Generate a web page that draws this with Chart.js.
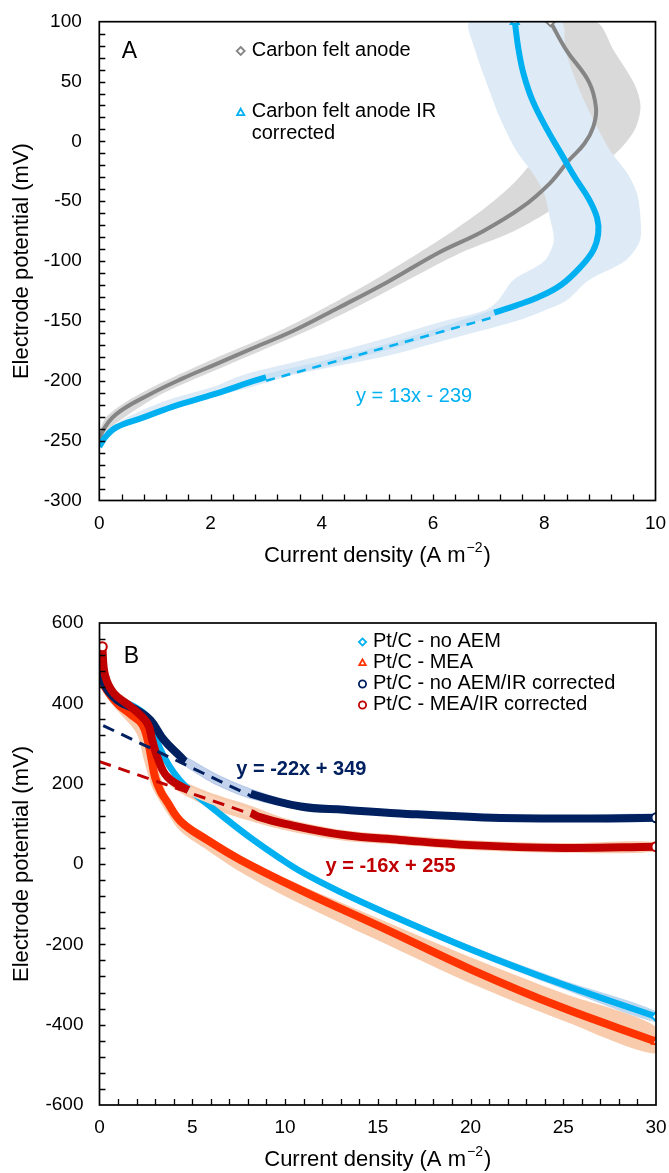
<!DOCTYPE html>
<html><head><meta charset="utf-8">
<script src="https://cdn.jsdelivr.net/npm/chart.js@4.4.1/dist/chart.umd.min.js"></script>
<style>
html,body{margin:0;padding:0;background:#fff;}
#wrap{position:relative;width:669px;height:1173px;background:#fff;}
canvas{position:absolute;left:0;}
#cA{top:0;} #cB{top:590px;}
</style></head><body>
<div id="wrap"><canvas id="cA" width="669" height="590"></canvas><canvas id="cB" width="669" height="583"></canvas></div>
<script>
// ---------------- DATA: panel A ----------------
const A_xTicks = [0, 2, 4, 6, 8, 10];
const A_yTicks = [-300, -250, -200, -150, -100, -50, 0, 50, 100];
const A_grayLabel = 'Carbon felt anode';
const A_grayX = [0, 0.05, 0.3, 0.92, 1.5, 2.1, 2.8, 3.5, 4.3, 5.2, 6.1, 6.9, 7.6, 8.1, 8.44, 8.72, 8.88, 8.93, 8.8, 8.4, 8.11];
const A_grayY = [-255, -243, -228, -211, -198, -186, -172, -158, -139, -117, -93, -75, -55, -35, -16, -2, 12, 28, 50, 76, 100];
const A_blueLabel = 'Carbon felt anode IR corrected';
const A_blueX = [0, 0.11, 0.3, 0.77, 1.3, 2.08, 3.0, 4.0, 5.0, 6.0, 7.1, 7.5, 7.9, 8.3, 8.65, 8.88, 8.97, 8.95, 8.8, 8.55, 8.3, 8.05, 7.79, 7.63, 7.54, 7.47];
const A_blueY = [-255, -247, -239, -231, -222, -211, -197, -186, -174, -160, -143, -137, -130, -120, -105, -91, -77, -64, -48, -30, -10, 10, 34, 56, 76, 100];
const A_bluePale = {from: 3.0, to: 7.1};
const A_grayBandY  = [-255, -243, -229, -211, -186, -158, -139, -117, -93, -75, -55, -35, -16, -2, 12, 30, 48, 76, 100];
const A_grayBandLo = [0, 0.0, 0.15, 0.72, 1.85, 3.25, 4.05, 4.9, 5.75, 6.35, 6.95, 7.45, 7.8, 8.0, 8.15, 8.2, 8.1, 7.7, 7.4];
const A_grayBandHi = [0.02, 0.12, 0.5, 1.12, 2.35, 3.75, 4.6, 5.5, 6.5, 7.45, 8.2, 8.75, 9.15, 9.45, 9.65, 9.73, 9.62, 9.25, 8.92];
const A_blueBandY  = [-255, -245, -235, -225, -215, -205, -195, -180, -165, -150, -141, -133, -116, -100, -83, -64, -44, -27, -8, 20, 48, 76, 100];
const A_blueBandLo = [0, 0.07, 0.33, 0.75, 1.3, 2.05, 2.6, 3.9, 5.1, 6.2, 6.94, 7.17, 7.44, 8.0, 8.17, 8.1, 8.0, 7.8, 7.5, 7.2, 6.97, 6.76, 6.67];
const A_blueBandHi = [0.02, 0.19, 0.57, 1.15, 1.9, 2.75, 3.5, 5.1, 6.3, 7.5, 8.02, 8.4, 8.8, 9.45, 9.72, 9.73, 9.67, 9.5, 9.19, 8.86, 8.59, 8.38, 8.29];
const A_fit = {slope: 13, intercept: -239, from: 3.0, to: 7.1, text: 'y = 13x - 239'};

// ---------------- DATA: panel B ----------------
const B_xTicks = [0, 5, 10, 15, 20, 25, 30];
const B_yTicks = [-600, -400, -200, 0, 200, 400, 600];
const B_noAemLabel = 'Pt/C - no AEM';
const B_noAemX = [0, 0.3, 1.0, 2.0, 2.7, 3.1, 3.5, 4.0, 4.6, 6.2, 8.0, 9.7, 10.9, 13, 15.5, 20.1, 24.8, 30];
const B_noAemY = [495, 445, 412, 388, 360, 305, 265, 228, 195, 135, 70, 15, -20, -70, -123, -214, -297, -380];
const B_noAemBandUp = [500, 452, 419, 395, 368, 315, 274, 236, 203, 143, 78, 23, -12, -62, -115, -205, -286, -366];
const B_noAemBandLo = [490, 438, 405, 381, 352, 295, 256, 220, 187, 127, 62, 7, -28, -78, -131, -223, -308, -394];
const B_meaLabel = 'Pt/C - MEA';
const B_meaX = [0, 0.3, 1, 1.7, 2.3, 2.6, 2.8, 3.0, 3.3, 3.6, 4.4, 5.8, 7.6, 10.85, 15.5, 20.1, 24.8, 30];
const B_meaY = [480, 440, 398, 372, 348, 308, 262, 215, 180, 158, 105, 60, 10, -65, -164, -264, -355, -442];
const B_meaBandX  = [0, 0.3, 1, 2, 2.4, 2.8, 3.2, 3.6, 4.4, 5.8, 7.6, 10, 15, 20, 25, 30];
const B_meaBandUp = [490, 452, 410, 378, 362, 318, 232, 178, 118, 72, 22, -35, -135, -232, -322, -405];
const B_meaBandLo = [468, 422, 380, 325, 258, 195, 160, 130, 80, 35, -20, -80, -190, -297, -390, -472];
const B_noAemIrLabel = 'Pt/C - no AEM/IR corrected';
const B_noAemIrX = [0, 0.23, 0.95, 2.03, 2.75, 3.47, 4.37, 4.64, 6.4, 8.15, 10.85, 13.2, 16.2, 20.7, 25, 30];
const B_noAemIrY = [516, 450, 408, 383, 358, 309, 267, 255, 208, 175, 143, 135, 126, 116, 113, 115];
const B_noAemIrBandUp = [520, 456, 414, 389, 364, 316, 274, 268, 222, 188, 151, 142, 133, 123, 121, 124];
const B_noAemIrBandLo = [512, 444, 402, 377, 352, 302, 260, 243, 194, 162, 135, 128, 119, 109, 105, 106];
const B_noAemIrPale = {from: 4.64, to: 8.15};
const B_meaIrLabel = 'Pt/C - MEA/IR corrected';
const B_meaIrX = [0.15, 0.3, 0.77, 1.67, 2.57, 2.84, 3.11, 3.65, 4.8, 6.5, 8.15, 8.55, 10, 13.2, 16.2, 20, 25, 30];
const B_meaIrY = [541, 470, 425, 392, 351, 309, 267, 217, 184, 151, 127, 118, 100, 72, 60, 47, 40, 43];
const B_meaIrBandX  = [0.15, 0.3, 0.77, 1.67, 2.57, 2.84, 3.11, 3.65, 4.8, 6.5, 8.15, 10, 13.2, 16.2, 20, 25, 30];
const B_meaIrBandUp = [545, 478, 433, 400, 361, 321, 279, 229, 200, 169, 145, 114, 84, 72, 59, 52, 55];
const B_meaIrBandLo = [537, 462, 415, 382, 341, 295, 253, 203, 166, 131, 107, 84, 58, 48, 35, 28, 31];
const B_meaIrPale = {from: 4.8, to: 8.15};
const B_fitNoAemIr = {slope: -22, intercept: 349, from: 0.2, to: 8.15, text: 'y = -22x + 349'};
const B_fitMeaIr = {slope: -16, intercept: 255, from: 0.0, to: 8.15, text: 'y = -16x + 255'};

// ---------------- helpers / styling ----------------
const FONT = "'Liberation Sans', Arial, Helvetica, sans-serif";
function pts(xs, ys){ return xs.map((x,i)=>({x:x, y:ys[i]})); }
function polyH(levels, lo, hi){
  const a = levels.map((v,i)=>({x:lo[i], y:v}));
  const b = levels.map((v,i)=>({x:hi[i], y:v})).reverse();
  return a.concat(b);
}
function polyV(xs, up, lo){
  const a = xs.map((x,i)=>({x:x, y:up[i]}));
  const b = xs.map((x,i)=>({x:x, y:lo[i]})).reverse();
  return a.concat(b);
}
function fitLine(f){ return [f.from, f.to].map(x=>({x:x, y:f.slope*x + f.intercept})); }
function band(data, color, order){
  return {label:'', data:data, fill:'shape', backgroundColor:color, borderColor:'rgba(0,0,0,0)',
          borderWidth:0, pointRadius:0, tension:0.3, order:order};
}
function series(label, data, color, width, style, order, pale, paleColor, marks){
  const ds = {label:label, data:data, borderColor:color, borderWidth:width, pointStyle:style,
    pointRadius: c => (marks.indexOf(c.dataIndex) >= 0 ? 4.5 : 0),
    pointBorderColor:color, pointBackgroundColor:'#fff', pointBorderWidth:2,
    tension:0.4, fill:false, order:order};
  if (pale) {
    ds.segment = { borderColor: c => { const m = (c.p0.parsed.x + c.p1.parsed.x)/2;
      return (m > pale.from && m < pale.to) ? paleColor : undefined; } };
  }
  return ds;
}
function trend(f, color, width, dash){
  return {label:'', data:fitLine(f), borderColor:color, borderWidth:width, borderDash:dash,
          pointRadius:0, fill:false, tension:0, order:1};
}
function scaleCfg(ticks, pad, size, horizontal){
  return {
    type:'linear', min:ticks[0], max:ticks[ticks.length-1],
    afterBuildTicks: s => { s.ticks = ticks.map(v=>({value:v})); },
    afterFit: s => { if (horizontal) s.height = size; else s.width = size;
      s.paddingTop = 0; s.paddingBottom = 0; s.paddingLeft = 0; s.paddingRight = 0; },
    grid:{display:false, drawTicks:false}, border:{display:false},
    ticks:{font:{family:FONT, size:19}, color:'#000', padding:pad, maxRotation:0, autoSkip:false}
  };
}
function drawMarker(ctx, style, x, y, r, color){
  ctx.save(); ctx.beginPath();
  if (style === 'rectRot') { ctx.moveTo(x, y-r); ctx.lineTo(x+r, y); ctx.lineTo(x, y+r); ctx.lineTo(x-r, y); ctx.closePath(); }
  else if (style === 'triangle') { ctx.moveTo(x, y-r); ctx.lineTo(x+r*0.9, y+r*0.6); ctx.lineTo(x-r*0.9, y+r*0.6); ctx.closePath(); }
  else { ctx.arc(x, y, r, 0, Math.PI*2); }
  ctx.fillStyle = '#fff'; ctx.fill(); ctx.lineWidth = 1.8; ctx.strokeStyle = color; ctx.stroke();
  ctx.restore();
}
function makeDecor(cfg){
  return { id:'decor', afterDatasetsDraw(chart){
    const ctx = chart.ctx, a = chart.chartArea, sx = chart.scales.x, sy = chart.scales.y;
    ctx.save();
    ctx.strokeStyle = '#000'; ctx.lineWidth = 1.3; ctx.beginPath();
    const nx = Math.round((sx.max - sx.min)/cfg.minorX);
    for (let i=1;i<nx;i++){ const px = Math.round(sx.getPixelForValue(sx.min + i*cfg.minorX)) + 0.5; ctx.moveTo(px, a.bottom); ctx.lineTo(px, a.bottom - 6); }
    const ny = Math.round((sy.max - sy.min)/cfg.minorY);
    for (let i=1;i<ny;i++){ const py = Math.round(sy.getPixelForValue(sy.min + i*cfg.minorY)) + 0.5; ctx.moveTo(a.left, py); ctx.lineTo(a.left + 6, py); }
    ctx.stroke();
    ctx.lineWidth = 1.7; ctx.strokeRect(a.left, a.top, a.right - a.left, a.bottom - a.top);
    ctx.fillStyle = '#000'; ctx.textBaseline = 'middle'; ctx.textAlign = 'center';
    ctx.font = '23px ' + FONT; ctx.fillText(cfg.panel.text, a.left + cfg.panel.dx, a.top + cfg.panel.dy);
    const cx = (a.left + a.right)/2, ty = a.bottom + cfg.xTitleGap;
    ctx.font = '22px ' + FONT; const w1 = ctx.measureText('Current density (A m').width, w3 = ctx.measureText(')').width;
    ctx.font = '14px ' + FONT; const w2 = ctx.measureText('\u22122').width;
    let x0 = cx - (w1 + w2 + w3 + 2)/2;
    ctx.textAlign = 'left';
    ctx.font = '22px ' + FONT; ctx.fillText('Current density (A m', x0, ty);
    ctx.font = '14px ' + FONT; ctx.fillText('\u22122', x0 + w1 + 1, ty - 8);
    ctx.font = '22px ' + FONT; ctx.fillText(')', x0 + w1 + w2 + 2, ty);
    ctx.save(); ctx.translate(22, (a.top + a.bottom)/2); ctx.rotate(-Math.PI/2);
    ctx.textAlign = 'center'; ctx.fillText('Electrode potential (mV)', 0, 0); ctx.restore();
    const L = cfg.legend; let y = L.y0;
    ctx.font = '20px ' + FONT; ctx.textAlign = 'left';
    L.items.forEach((idx) => {
      const ds = chart.data.datasets[idx];
      drawMarker(ctx, ds.pointStyle, L.mx, y + 1, L.r, ds.borderColor);
      ctx.fillStyle = '#000';
      const words = ds.label.split(' '); let line = ''; const lines = [];
      words.forEach(w => { const t = line ? line + ' ' + w : w; if (ctx.measureText(t).width > L.maxW && line) { lines.push(line); line = w; } else line = t; });
      lines.push(line);
      lines.forEach((t, j) => ctx.fillText(t, L.tx, y + j*L.lh));
      y += (lines.length - 1)*L.lh + L.gap;
    });
    cfg.notes.forEach(n => {
      ctx.font = (n.bold ? 'bold ' : '') + '20px ' + FONT; ctx.fillStyle = n.color; ctx.textAlign = 'center';
      ctx.fillText(n.text, sx.getPixelForValue(n.x), sy.getPixelForValue(n.y));
    });
    ctx.restore();
  }};
}
const baseOpts = (ticksX, ticksY, yPad, xPad, yW, xH, padTop, padRight) => ({
  responsive:false, animation:false, devicePixelRatio:1, events:[],
  layout:{padding:{top:padTop, right:padRight, left:0, bottom:0}},
  plugins:{legend:{display:false}, tooltip:{enabled:false}},
  scales:{ x: scaleCfg(ticksX, xPad, xH, true), y: scaleCfg(ticksY, yPad, yW, false) }
});

// ---------------- Chart A ----------------
const C_BLUE = '#00B0F0', C_GRAY = '#858585';
new Chart(document.getElementById('cA'), {
  type:'line',
  data:{ datasets:[
    series(A_grayLabel, pts(A_grayX, A_grayY), C_GRAY, 4, 'rectRot', 5, null, null, [A_grayX.length-1]),
    series(A_blueLabel, pts(A_blueX, A_blueY), C_BLUE, 6, 'triangle', 4, A_bluePale, '#c9e1f4', [A_blueX.length-1]),
    band(polyH(A_grayBandY, A_grayBandLo, A_grayBandHi), '#d9d9d9', 10),
    band(polyH(A_blueBandY, A_blueBandLo, A_blueBandHi), '#deebf7', 9),
    trend(A_fit, C_BLUE, 2.5, [9, 7])
  ]},
  options: baseOpts(A_xTicks, A_yTicks, 17.5, 12, 99.3, 89.5, 21.7, 13.5),
  plugins:[ makeDecor({minorX:0.4, minorY:10, xTitleGap:55.5,
    panel:{text:'A', dx:30, dy:30},
    legend:{items:[0,1], mx:240.7, tx:251.7, y0:50, lh:21.5, gap:61.7, r:4, maxW:190},
    notes:[{text:A_fit.text, x:5.66, y:-213.5, color:C_BLUE, bold:false}] }) ]
});

// ---------------- Chart B ----------------
const C_NAVY = '#002060', C_DRED = '#C00000', C_ORANGE = '#FF3300';
new Chart(document.getElementById('cB'), {
  type:'line',
  data:{ datasets:[
    series(B_noAemLabel, pts(B_noAemX, B_noAemY), C_BLUE, 6.5, 'rectRot', 6, null, null, [B_noAemX.length-1]),
    series(B_meaLabel, pts(B_meaX, B_meaY), C_ORANGE, 8, 'triangle', 5, null, null, [B_meaX.length-1]),
    series(B_noAemIrLabel, pts(B_noAemIrX, B_noAemIrY), C_NAVY, 8, 'circle', 4, B_noAemIrPale, '#c3d3ee', [B_noAemIrX.length-1]),
    series(B_meaIrLabel, pts(B_meaIrX, B_meaIrY), C_DRED, 8, 'circle', 3, B_meaIrPale, '#f9d3ba', [0, B_meaIrX.length-1]),
    band(polyV(B_meaBandX, B_meaBandUp, B_meaBandLo), '#f8cbad', 14),
    band(polyV(B_noAemX, B_noAemBandUp, B_noAemBandLo), '#bdd7ee', 13),
    band(polyV(B_meaIrBandX, B_meaIrBandUp, B_meaIrBandLo), '#f8cbad', 12),
    band(polyV(B_noAemIrX, B_noAemIrBandUp, B_noAemIrBandLo), '#b4c7e7', 11),
    trend(B_fitNoAemIr, C_NAVY, 3, [12, 8]),
    trend(B_fitMeaIr, C_DRED, 3, [12, 8])
  ]},
  options: baseOpts(B_xTicks, B_yTicks, 16, 11.6, 99.5, 68, 33, 13),
  plugins:[ makeDecor({minorX:1, minorY:40, xTitleGap:55,
    panel:{text:'B', dx:32, dy:33.5},
    legend:{items:[0,1,2,3], mx:362.5, tx:373, y0:51, lh:21, gap:21, r:3.6, maxW:400},
    notes:[{text:B_fitNoAemIr.text, x:10.88, y:236, color:C_NAVY, bold:true},
           {text:B_fitMeaIr.text, x:15.69, y:-7, color:C_DRED, bold:true}] }) ]
});
</script>
</body></html>
